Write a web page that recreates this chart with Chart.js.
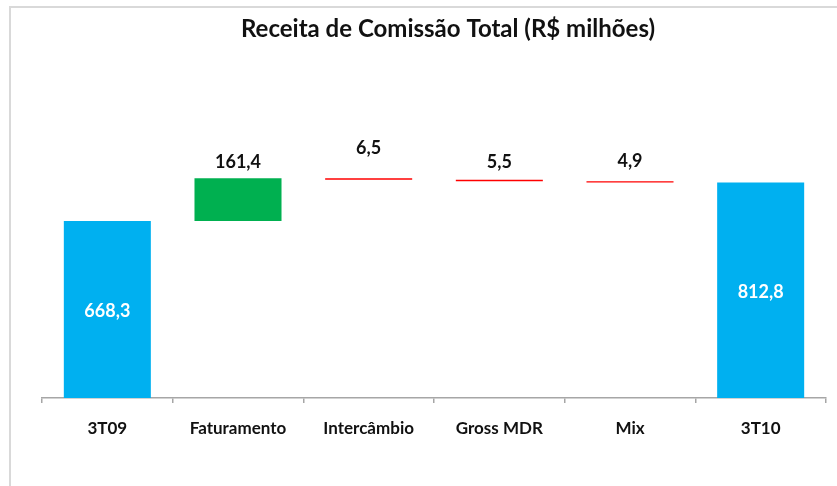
<!DOCTYPE html>
<html><head><meta charset="utf-8">
<script src="https://cdn.jsdelivr.net/npm/chart.js@4.4.0/dist/chart.umd.min.js"></script>
<style>html,body{margin:0;padding:0;background:#fff;}#wrap{width:837px;height:486px;}</style>
</head><body><div id="wrap"><canvas id="c" width="837" height="486"></canvas></div>
<script>
const categories = ["3T09", "Faturamento", "Intercâmbio", "Gross MDR", "Mix", "3T10"];
const changes = [668.3, 161.4, -6.5, -5.5, -4.9, 812.8];
const kinds = ["total", "delta", "delta", "delta", "delta", "total"];
const titleText = "Receita de Comissão Total (R$ milhões)";

const ranges = [];
let run = 0;
changes.forEach((v, i) => {
  if (kinds[i] === "total") { ranges.push([0, v]); run = v; }
  else { const s = run, e = run + v; ranges.push([Math.min(s, e), Math.max(s, e)]); run = e; }
});
const colors = changes.map((v, i) => kinds[i] === "total" ? "#00B0F0" : (v >= 0 ? "#00B050" : "#FF0000"));
const fmt = v => Math.abs(v).toFixed(1).replace(".", ",");
const labelLift = [0, 16, 30, 18, 20, 0];
const FONT = "Lato, 'Open Sans', sans-serif";

const decor = {
  id: "decor",
  beforeDraw(chart) {
    const ctx = chart.ctx;
    ctx.save();
    ctx.fillStyle = "#fff";
    ctx.fillRect(0, 0, chart.width, chart.height);
    ctx.strokeStyle = "#d9d9d9";
    ctx.lineWidth = 2;
    ctx.beginPath();
    ctx.moveTo(10, 486); ctx.lineTo(10, 7); ctx.lineTo(837, 7);
    ctx.stroke();
    ctx.fillStyle = "#111";
    ctx.font = "bold 24px " + FONT;
    ctx.textAlign = "center";
    ctx.textBaseline = "middle";
    ctx.fillText(titleText, 448, 29);
    ctx.restore();
  },
  afterDatasetsDraw(chart) {
    const ctx = chart.ctx;
    const meta = chart.getDatasetMeta(0);
    ctx.save();
    ctx.textAlign = "center";
    ctx.textBaseline = "middle";
    ctx.font = "bold 18px " + FONT;
    meta.data.forEach((bar, i) => {
      const txt = fmt(changes[i]);
      if (kinds[i] === "total") {
        ctx.fillStyle = "#fff";
        ctx.fillText(txt, bar.x, (bar.y + bar.base) / 2 + 2);
      } else {
        ctx.fillStyle = "#111";
        ctx.fillText(txt, bar.x, Math.min(bar.y, bar.base) - labelLift[i]);
      }
    });
    ctx.restore();
  }
};

new Chart(document.getElementById("c"), {
  type: "bar",
  data: {
    labels: categories,
    datasets: [{ data: ranges, backgroundColor: colors, borderWidth: 0, barPercentage: 0.666, categoryPercentage: 1 }]
  },
  options: {
    responsive: false,
    animation: false,
    layout: { padding: { top: 133, left: 42, right: 11, bottom: 0 } },
    plugins: { legend: { display: false }, tooltip: { enabled: false }, title: { display: false } },
    scales: {
      y: { display: false, min: 0, max: 1000 },
      x: {
        offset: true,
        afterFit(scale) { scale.height = 88; },
        border: { display: true, color: "#a6a6a6", width: 1.5 },
        grid: { display: true, offset: true, drawOnChartArea: false, drawTicks: true, tickLength: 5, color: "#a6a6a6", lineWidth: 1.5 },
        ticks: { color: "#111", padding: 15, font: { family: FONT, size: 17, weight: "bold" }, maxRotation: 0 }
      }
    }
  },
  plugins: [decor]
});
</script></body></html>
